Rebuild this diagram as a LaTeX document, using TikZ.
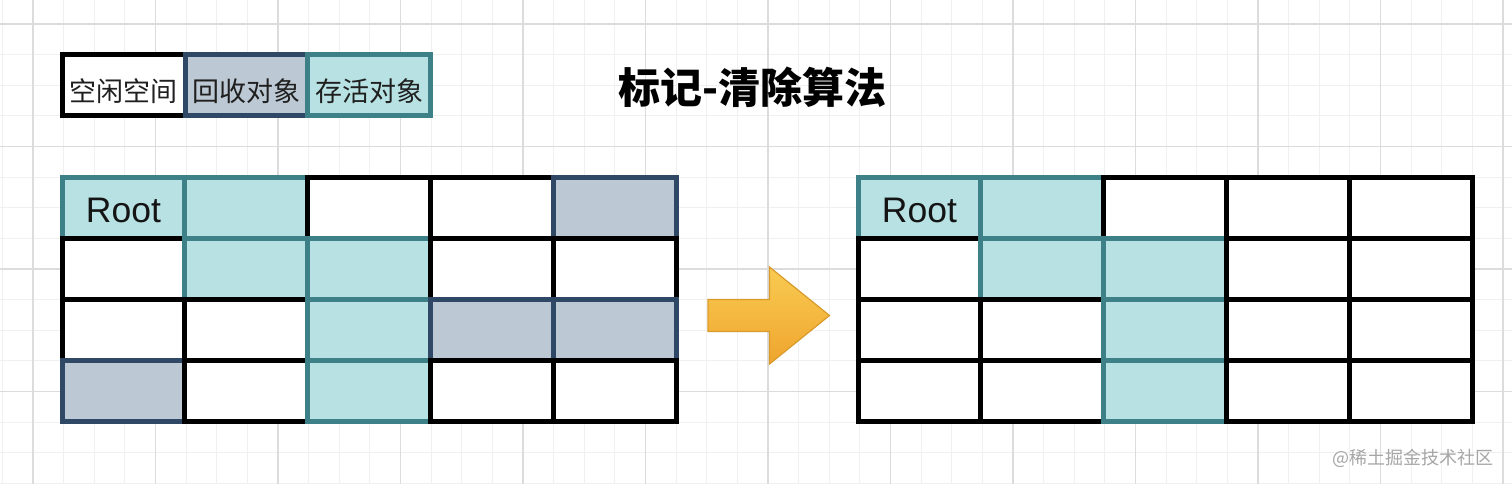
\documentclass[tikz,border=0pt]{standalone}
\usepackage{fontspec}
\setmainfont{Liberation Sans}
\newfontfamily\cjk{Noto Sans CJK SC}
\definecolor{tealline}{HTML}{3E8087}
\definecolor{livefill}{HTML}{B7E1E2}
\definecolor{navyline}{HTML}{2F4866}
\definecolor{deadfill}{HTML}{BCC8D3}
\definecolor{gridmaj}{HTML}{DCDCDC}
\definecolor{gridmin}{HTML}{F0F0F0}
\definecolor{arrowtop}{HTML}{F9CB52}
\definecolor{arrowbot}{HTML}{EFA52E}
\definecolor{arrowedge}{HTML}{D89B2B}
\tikzset{
  gridminor/.style={draw=gridmin, line width=1pt},
  gridmajor/.style={draw=gridmaj, line width=1.6pt},
  cellbase/.style={line width=5pt, minimum width=122.8pt, minimum height=61pt, inner sep=0pt, outer sep=0pt, anchor=north west},
  cellF/.style={cellbase, draw=black, fill=white},
  cellL/.style={cellbase, draw=tealline, fill=livefill},
  cellD/.style={cellbase, draw=navyline, fill=deadfill},
  legbox/.style={line width=5pt, minimum width=122.7pt, minimum height=61pt, inner sep=0pt, outer sep=0pt, anchor=north west},
  legtext/.style={font=\cjk\fontsize{27}{32}\selectfont, text=black!88, inner sep=0pt},
  roottext/.style={font=\fontsize{35.5}{40}\selectfont, text=black!92, inner sep=0pt},
}
\begin{document}
\begin{tikzpicture}[x=1pt,y=-1pt]
\useasboundingbox (0,0) rectangle (1512,484);
\fill[white] (0,0) rectangle (1512,484);
% background grid
\foreach \k in {0,...,49} \draw[gridminor] ({2.375+30.625*\k},0) -- ({2.375+30.625*\k},484);
\foreach \k in {0,...,15} \draw[gridminor] (0,{24+30.625*\k}) -- (1512,{24+30.625*\k});
\foreach \k in {0,...,12} \draw[gridmajor] ({33+122.5*\k},0) -- ({33+122.5*\k},484);
\foreach \k in {0,...,3} \draw[gridmajor] (0,{24+122.5*\k}) -- (1512,{24+122.5*\k});
% legend
\node[legbox, draw=black, fill=white] (lg1) at (62.5,54.5) {};
\node[legbox, draw=navyline, fill=deadfill] (lg2) at (185.2,54.5) {};
\node[legbox, draw=tealline, fill=livefill] (lg3) at (307.9,54.5) {};
\node[legtext] (lt1) at ([yshift=-6pt]lg1.center) {空闲空间};
\node[legtext] (lt2) at ([yshift=-6pt]lg2.center) {回收对象};
\node[legtext] (lt3) at ([yshift=-6pt]lg3.center) {存活对象};
% title
\node[font=\cjk\bfseries\fontsize{42}{50}\selectfont, inner sep=0pt] (title) at (752.5,87.5) {标记-清除算法};
% left grid (before)
\foreach [count=\c from 0] \s in {L,L,F,F,D} \node[cell\s] (a-0-\c) at ({62+122.8*\c},177.5) {};
\foreach [count=\c from 0] \s in {F,L,L,F,F} \node[cell\s] (a-1-\c) at ({62+122.8*\c},238.5) {};
\foreach [count=\c from 0] \s in {F,F,L,D,D} \node[cell\s] (a-2-\c) at ({62+122.8*\c},299.5) {};
\foreach [count=\c from 0] \s in {D,F,L,F,F} \node[cell\s] (a-3-\c) at ({62+122.8*\c},360.5) {};
\node[roottext] (rootA) at ([yshift=-2.5pt]a-0-0.center) {Root};
% right grid (after)
\foreach [count=\c from 0] \s in {L,L,F,F,F} \node[cell\s] (b-0-\c) at ({858+122.8*\c},177.5) {};
\foreach [count=\c from 0] \s in {F,L,L,F,F} \node[cell\s] (b-1-\c) at ({858+122.8*\c},238.5) {};
\foreach [count=\c from 0] \s in {F,F,L,F,F} \node[cell\s] (b-2-\c) at ({858+122.8*\c},299.5) {};
\foreach [count=\c from 0] \s in {F,F,L,F,F} \node[cell\s] (b-3-\c) at ({858+122.8*\c},360.5) {};
\node[roottext] (rootB) at ([yshift=-2.5pt]b-0-0.center) {Root};
% arrow
\shadedraw[draw=arrowedge, line width=1.2pt, top color=arrowtop, bottom color=arrowbot, line join=miter]
  (708,299.5) -- (769.5,299.5) -- (769.5,267) -- (829.5,315.5) -- (769.5,364) -- (769.5,331.5) -- (708,331.5) -- cycle;
% watermark
\node[anchor=east, text=black!35, font=\cjk\fontsize{18}{20}\selectfont, inner sep=0pt] (wm) at (1494,458.5) {@稀土掘金技术社区};
\end{tikzpicture}
\end{document}
